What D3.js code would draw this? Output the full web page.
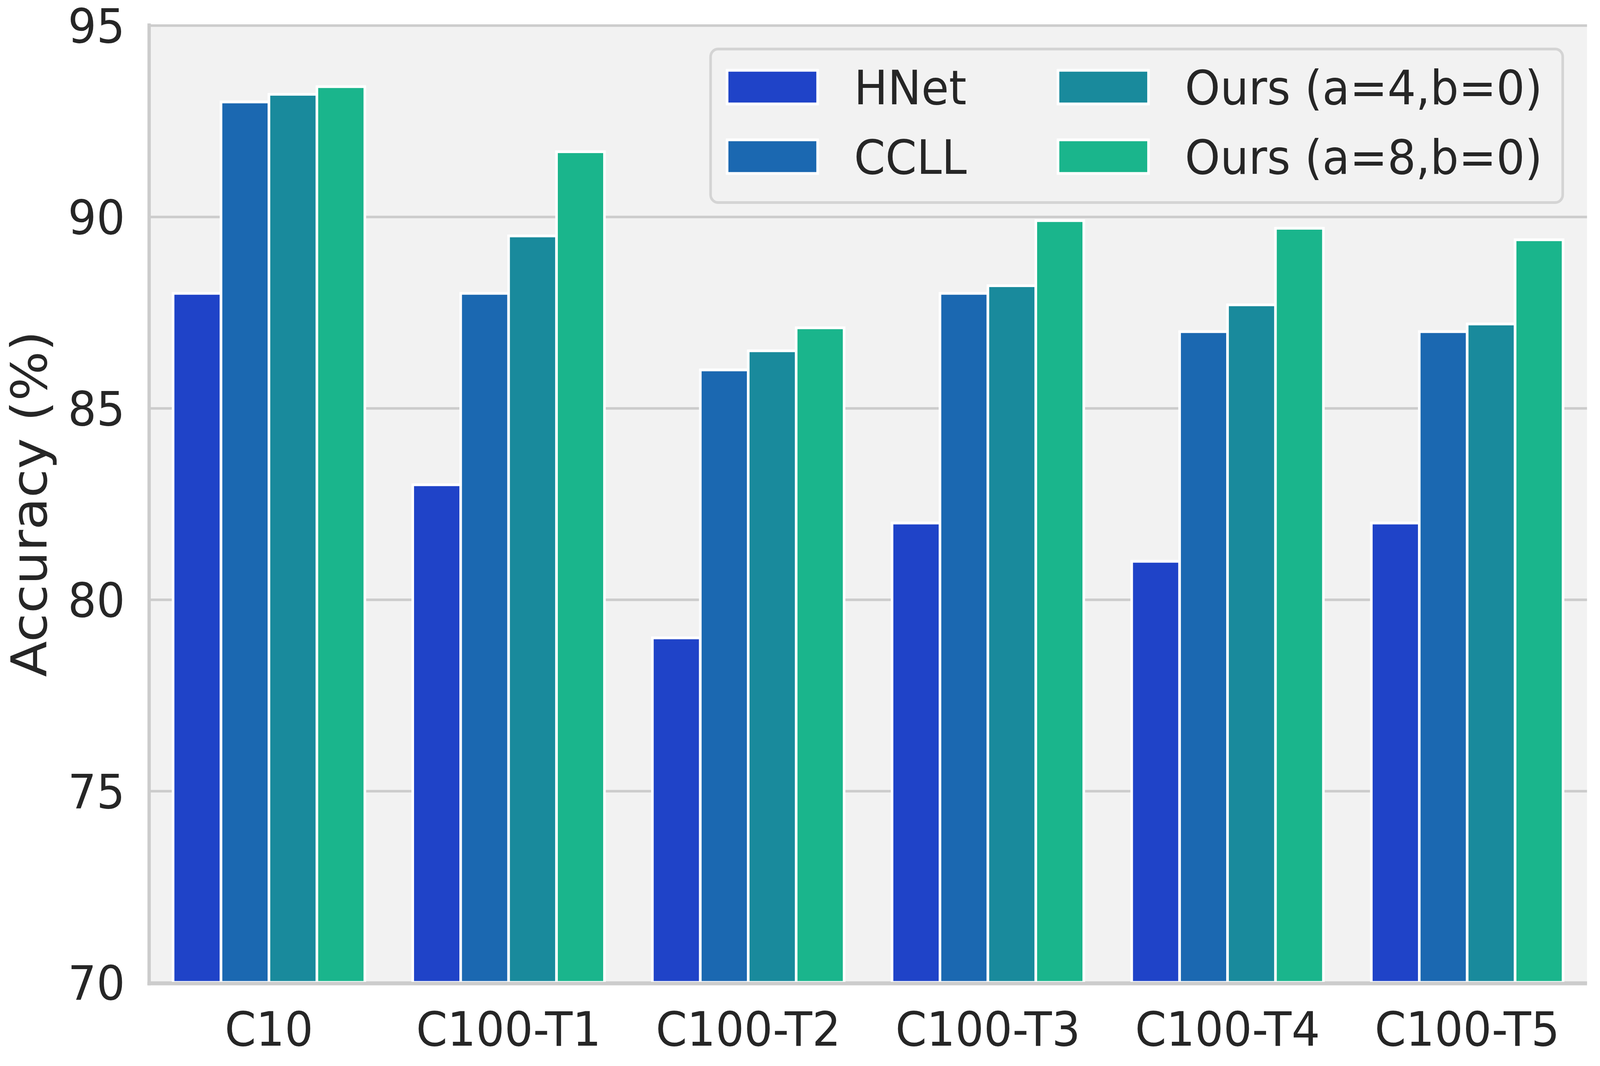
<!DOCTYPE html>
<html>
<head>
<meta charset="utf-8">
<script src="https://cdn.jsdelivr.net/npm/d3@7"></script>
<style>
  html, body { margin: 0; padding: 0; background: #ffffff; overflow: hidden; }
  .chart svg { display: block; }
  text { font-family: "DejaVu Sans", sans-serif; fill: #262626; }
</style>
</head>
<body>
<div class="chart"></div>
<script>

// data
var categories = ["C10", "C100-T1", "C100-T2", "C100-T3", "C100-T4", "C100-T5"];
var series = ["HNet", "CCLL", "Ours (a=4,b=0)", "Ours (a=8,b=0)"];
var hnet = [88.0, 83.0, 79.0, 82.0, 81.0, 82.0];
var ccll = [93.0, 88.0, 86.0, 88.0, 87.0, 87.0];
var oursA4 = [93.2, 89.5, 86.5, 88.2, 87.7, 87.2];
var oursA8 = [93.4, 91.7, 87.1, 89.9, 89.7, 89.4];
var yTicks = [70, 75, 80, 85, 90, 95];
var colors = ["#1f43c8", "#1b68b1", "#198a9c", "#1ab58c"];

var seriesValues = [hnet, ccll, oursA4, oursA8];

// svg dimensions (drawing units, scaled to fill the window)
var svgWidth = 4313;
var svgHeight = 2729;

var margin = {
  top: 65,
  right: 35,
  bottom: 214,
  left: 402
};

var width = svgWidth - margin.left - margin.right;
var height = svgHeight - margin.top - margin.bottom;

var svg = d3
  .select(".chart")
  .append("svg")
  .attr("width", window.innerWidth || svgWidth)
  .attr("height", window.innerHeight || svgHeight)
  .attr("viewBox", `0 0 ${svgWidth} ${svgHeight}`)
  .attr("preserveAspectRatio", "none");

var chartGroup = svg.append("g")
  .attr("transform", `translate(${margin.left}, ${margin.top})`);

// build rows for the grouped bars
var rows = [];
categories.forEach(function(cat, i) {
  series.forEach(function(s, j) {
    rows.push({ category: cat, series: s, value: seriesValues[j][i] });
  });
});

// scales
var x0 = d3.scaleBand()
  .domain(categories)
  .range([0, width])
  .paddingInner(0.2)
  .paddingOuter(0.1);

var x1 = d3.scaleBand()
  .domain(series)
  .range([0, x0.bandwidth()]);

var yLinearScale = d3.scaleLinear()
  .domain([70, 95])
  .range([height, 0]);

var color = d3.scaleOrdinal()
  .domain(series)
  .range(colors);

// axes background
chartGroup.append("rect")
  .attr("x", 0)
  .attr("y", 0)
  .attr("width", width)
  .attr("height", height)
  .attr("fill", "#f2f2f2");

// gridlines
var grid = chartGroup.append("g")
  .call(d3.axisLeft(yLinearScale).tickValues(yTicks).tickSize(-width).tickFormat(""));
grid.select(".domain").remove();
grid.selectAll("line")
  .attr("stroke", "#cccccc")
  .attr("stroke-width", 6.5);

// bars
chartGroup.append("g")
  .selectAll("rect")
  .data(rows)
  .enter()
  .append("rect")
  .attr("x", d => x0(d.category) + x1(d.series))
  .attr("y", d => yLinearScale(d.value))
  .attr("width", x1.bandwidth())
  .attr("height", d => height - yLinearScale(d.value))
  .attr("fill", d => color(d.series))
  .attr("stroke", "#ffffff")
  .attr("stroke-width", 7);

// y axis labels
var leftAxis = chartGroup.append("g")
  .call(d3.axisLeft(yLinearScale).tickValues(yTicks).tickSize(0).tickPadding(65));
leftAxis.select(".domain").remove();
leftAxis.selectAll("text")
  .attr("font-size", 121)
  .attr("font-family", "DejaVu Sans")
  .attr("fill", "#262626")
  .attr("dy", "0.36em");

// x axis labels
var bottomAxis = chartGroup.append("g")
  .attr("transform", `translate(0, ${height})`)
  .call(d3.axisBottom(x0).tickSize(0).tickPadding(76));
bottomAxis.select(".domain").remove();
bottomAxis.selectAll("text")
  .attr("font-size", 121)
  .attr("font-family", "DejaVu Sans")
  .attr("fill", "#262626");

// spines (left and bottom)
chartGroup.append("line")
  .attr("x1", 0)
  .attr("x2", 0)
  .attr("y1", -5)
  .attr("y2", height + 7.5)
  .attr("stroke", "#cccccc")
  .attr("stroke-width", 9);

chartGroup.append("line")
  .attr("x1", -4.5)
  .attr("x2", width)
  .attr("y1", height + 3)
  .attr("y2", height + 3)
  .attr("stroke", "#cccccc")
  .attr("stroke-width", 9);

// y axis title
chartGroup.append("text")
  .attr("transform", `translate(${125 - margin.left}, ${height / 2}) rotate(-90)`)
  .attr("text-anchor", "middle")
  .attr("font-size", 134)
  .text("Accuracy (%)");

// legend
var legend = chartGroup.append("g")
  .attr("transform", `translate(${1912 - margin.left}, ${122 - margin.top})`);

legend.append("rect")
  .attr("x", 3.5)
  .attr("y", 3.5)
  .attr("width", 2297)
  .attr("height", 393)
  .attr("rx", 20)
  .attr("fill", "#f2f2f2")
  .attr("stroke", "#d4d4d4")
  .attr("stroke-width", 7);

var legendItems = legend.selectAll(".legend-item")
  .data(series)
  .enter()
  .append("g")
  .attr("class", "legend-item")
  .attr("transform", (d, i) => `translate(${Math.floor(i / 2) * 892}, ${(i % 2) * 178})`);

legendItems.append("rect")
  .attr("x", 48)
  .attr("y", 58)
  .attr("width", 244)
  .attr("height", 86)
  .attr("fill", d => color(d))
  .attr("stroke", "#ffffff")
  .attr("stroke-width", 7);

legendItems.append("text")
  .attr("x", 390)
  .attr("y", 145)
  .attr("font-size", 121)
  .text(d => d);

</script>
</body>
</html>
